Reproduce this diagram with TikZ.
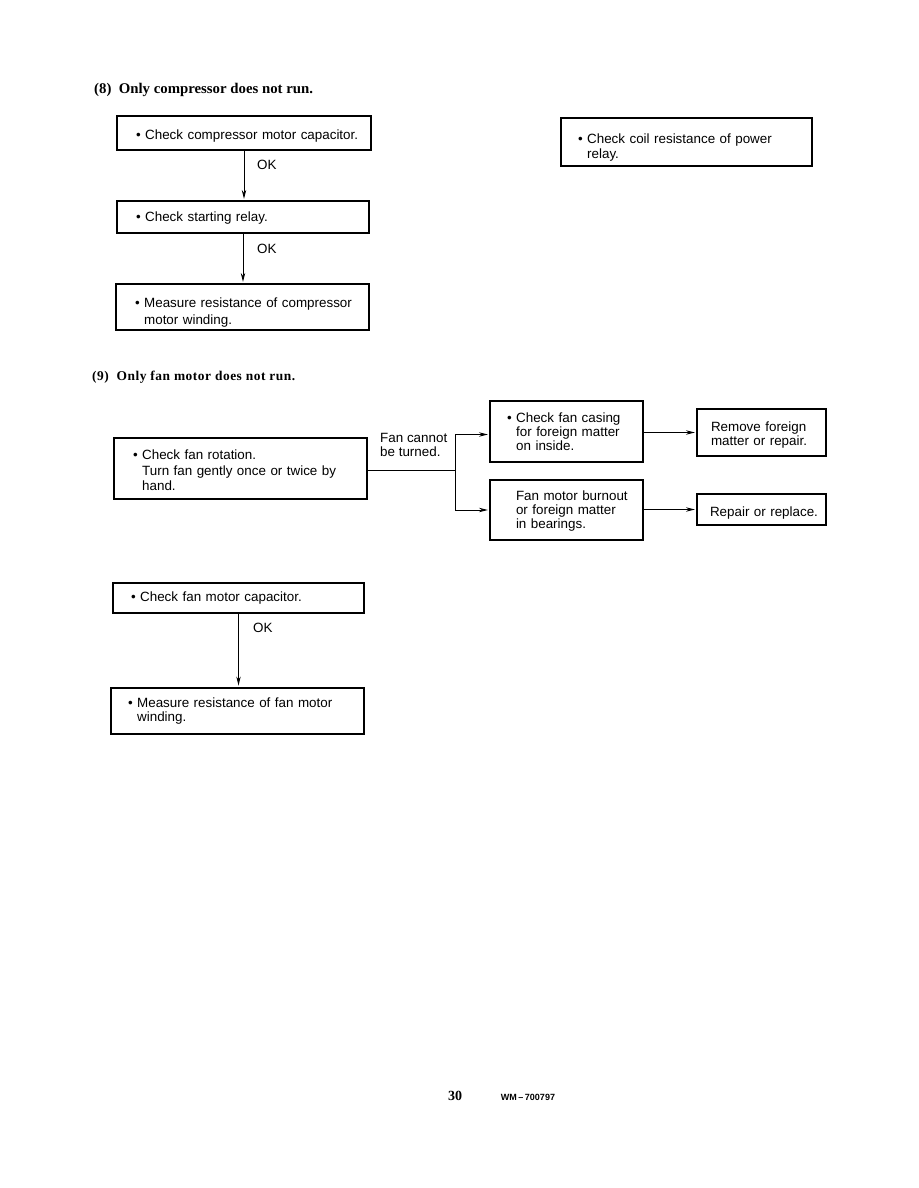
\documentclass[tikz,border=0pt]{standalone}
\usepackage{fontspec}
\setmainfont{Liberation Sans}
\newfontfamily\headfont{Liberation Serif}
\usetikzlibrary{arrows.meta}
\hyphenpenalty=10000
\exhyphenpenalty=10000
\newcommand{\bul}{\textbullet\ }
\newcommand{\hang}{\phantom{\textbullet\ }}
\newcommand{\lm}[1]{\hspace*{#1pt}}
\newcommand{\lift}[1]{\rule{0pt}{#1pt}}

\begin{document}
\begin{tikzpicture}[x=1pt, y=-1pt, every node/.style={font=\fontsize{13.4}{15}\selectfont}]
  \tikzstyle{box}=[draw, line width=1.1pt, align=left, inner xsep=4pt, inner ysep=0pt]
  \tikzstyle{hbox}=[box, line width=1.9pt]
  \tikzstyle{arr}=[line width=1pt, -{Stealth[length=9pt, width=4.4pt]}, shorten >=1.5pt]
  \useasboundingbox (0,0) rectangle (918,1188);

  \node[anchor=base west, inner sep=0pt, font=\fontsize{14.8}{17}\headfont\bfseries] (t8) at (94,94)
    {(8)\ \ Only compressor does not run.};
  \node[hbox, text width=246pt, minimum height=34pt] (a1) at (244,133)
    {\lift{16}\lm{15}\bul Check compressor motor capacitor.};
  \node[box, text width=244pt, minimum height=32pt] (a2) at (243,217)
    {\lift{12}\lm{15}\bul Check starting relay.};
  \node[box, text width=245pt, minimum height=46pt,
        font=\fontsize{13.4}{17}\selectfont] (a3) at (242.5,307)
    {\lift{20}\lm{15}\bul Measure resistance of compressor\\ \lm{15}\hang motor winding.};
  \node[hbox, text width=243pt, minimum height=48pt] (b1) at (686.5,142)
    {\lift{20}\lm{13}\bul Check coil resistance of power\\ \lm{13}\hang relay.};
  \draw[arr] (a1.south) -- (a1.south |- a2.north);
  \draw[arr] (a2.south) -- (a2.south |- a3.north);

  \node[anchor=base west, inner sep=0pt, font=\fontsize{13.4}{15}\headfont\bfseries\addfontfeature{LetterSpace=4}] (t9) at (92,380)
    {(9)\ \ Only fan motor does not run.};
  \node[hbox, text width=245pt, minimum height=61pt,
        font=\fontsize{13.4}{15.5}\selectfont] (c1) at (240.5,468.5)
    {\lift{14}\lm{15}\bul Check fan rotation.\\ \lm{15}\hang Turn fan gently once or twice by\\ \lm{15}\hang hand.};
  \node[box, text width=145pt, minimum height=61pt,
        font=\fontsize{13.4}{13.8}\selectfont] (c2) at (566.5,431.5)
    {\lm{13}\bul Check fan casing\\ \lm{13}\hang for foreign matter\\ \lm{13}\hang on inside.};
  \node[box, text width=145pt, minimum height=60pt,
        font=\fontsize{13.4}{14}\selectfont] (c3) at (566.5,510)
    {\lift{12}\lm{22}Fan motor burnout\\ \lm{22}or foreign matter\\ \lm{22}in bearings.};
  \node[box, text width=121pt, minimum height=47pt,
        font=\fontsize{13.4}{14}\selectfont] (c4) at (761.5,432.5)
    {\lift{14}\lm{10}Remove foreign\\ \lm{10}matter or repair.};
  \node[box, text width=121pt, minimum height=31pt] (c5) at (761.5,509.5)
    {\lift{16}\lm{9}Repair or replace.};
  \node[anchor=north west, align=left, inner sep=0pt,
        font=\fontsize{13.4}{14}\selectfont] (lbl) at (380,433)
    {Fan cannot\\ be turned.};
  \coordinate (j) at (455,470);
  \draw[line width=1pt] (c1.east |- j) -- (j);
  \draw[arr] (j) |- ([yshift=-3pt]c2.west);
  \draw[arr] (j) |- (c3.west);
  \draw[arr] (c2.east |- c4.west) -- (c4.west);
  \draw[arr] (c3.east |- c5.west) -- (c5.west);

  \node[hbox, text width=243pt, minimum height=30pt] (d1) at (238.5,598)
    {\lm{14}\bul Check fan motor capacitor.};
  \node[hbox, text width=245pt, minimum height=46pt,
        font=\fontsize{13.4}{14}\selectfont] (d2) at (237.5,711)
    {\lm{13}\bul Measure resistance of fan motor\\ \lm{13}\hang winding.};
  \draw[arr] (d1.south) -- (d1.south |- d2.north);

  \foreach \n/\x/\y in {1/257/165, 2/257/249, 3/253/628}
    \node[anchor=west, inner sep=0pt] (ok\n) at (\x,\y) {OK};

  \node[font=\fontsize{14}{16}\headfont\bfseries] (pg) at (455,1096) {30};
  \node[font=\fontsize{9}{10}\bfseries] (doc) at (528,1097) {WM\,--\,700797};
\end{tikzpicture}
\end{document}
